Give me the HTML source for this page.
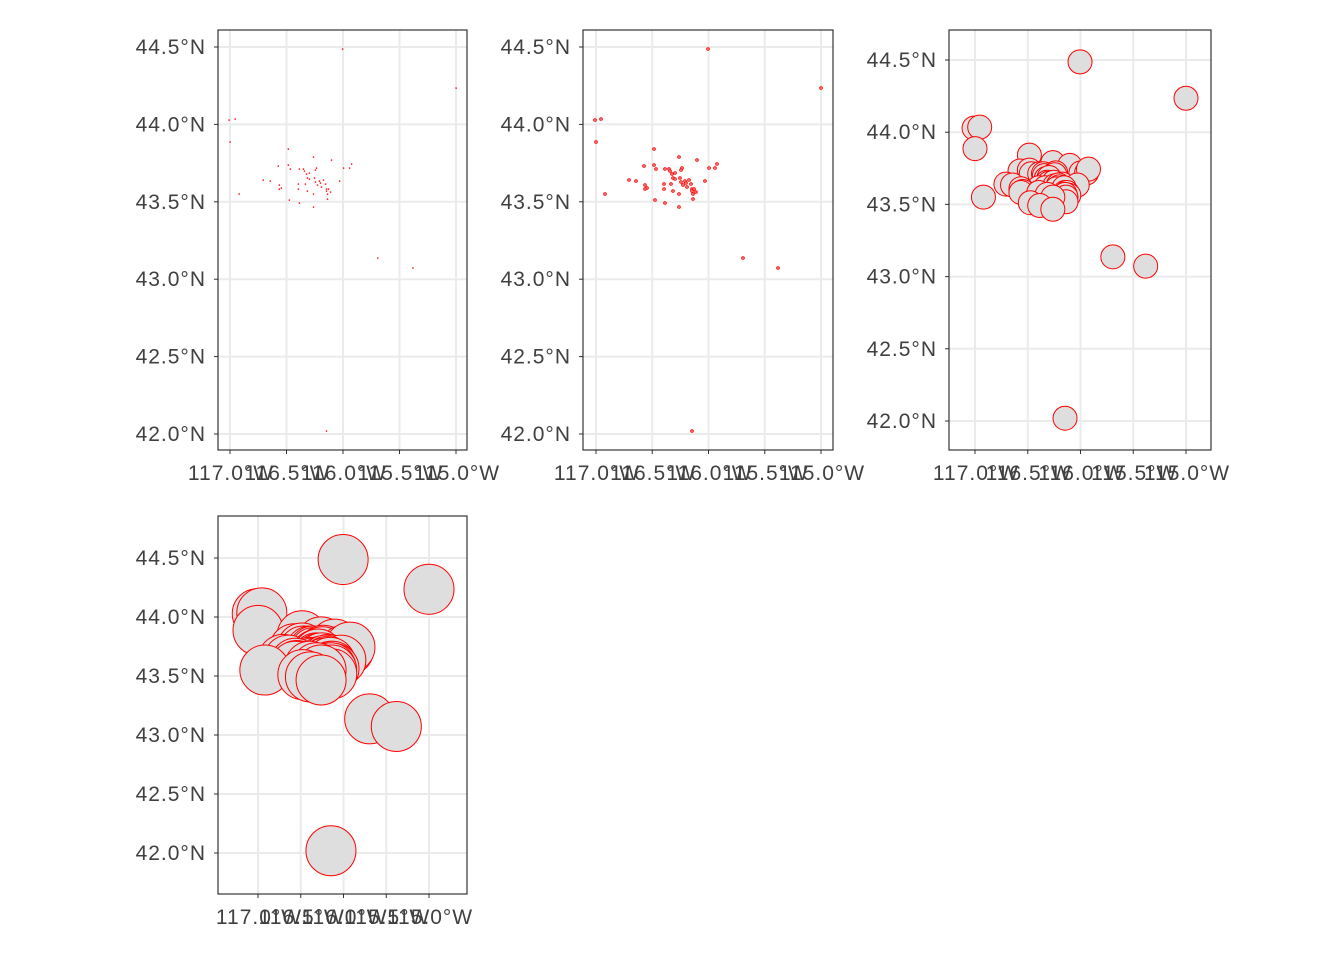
<!DOCTYPE html><html><head><style>body{margin:0;background:#fff}svg text{font-family:"Liberation Sans",sans-serif;font-size:21px;letter-spacing:1px;fill:#404040}</style></head><body>
<svg id="s" width="1344" height="960" xmlns="http://www.w3.org/2000/svg"></svg>
<script>
const P=[[708,49],[821,88],[595,120],[601,119],[743,258],[778,268],[692,431],[596,142],[654,149],[679,157],[697,160],[644,166],[654,165],[656,169],[665,169],[669,169],[670,171],[682,168],[681,170],[709,168],[715,168],[717,164],[629,180],[636,181],[672,174],[675,173],[673,178],[675,179],[680,178],[689,180],[705,181],[664,184],[671,184],[681,182],[685,181],[686,183],[687,187],[683,185],[691,184],[692,189],[694,189],[696,192],[692,191],[693,194],[693,199],[645,185],[647,188],[645,189],[664,189],[673,191],[679,194],[605,194],[655,200],[665,203],[679,207]];
const D=P.map(p=>[(p[0]-596)/225,(434-p[1])/387]);
const panels=[
 {x0:218,x1:467,y0:30,y1:450,lx0:230,lx1:456,ly0:434,ly1:47,r:0.6,sw:0},
 {x0:583,x1:833,y0:30,y1:450,lx0:596,lx1:821,ly0:434,ly1:47,r:1.3,sw:1},
 {x0:949,x1:1211,y0:30,y1:450,lx0:975,lx1:1186,ly0:421,ly1:60,r:12,sw:1},
 {x0:218,x1:467,y0:516,y1:894,lx0:258,lx1:429,ly0:853,ly1:558,r:25,sw:1}];
let h='';
const xs=['117.0°W','116.5°W','116.0°W','115.5°W','115.0°W'],ys=['42.0°N','42.5°N','43.0°N','43.5°N','44.0°N','44.5°N'];
for(const q of panels){
 h+=`<rect x="${q.x0}" y="${q.y0}" width="${q.x1-q.x0}" height="${q.y1-q.y0}" fill="#fff"/>`;
 for(let i=0;i<5;i++){const x=q.lx0+(q.lx1-q.lx0)*i/4;h+=`<line x1="${x}" x2="${x}" y1="${q.y0}" y2="${q.y1}" stroke="#ebebeb" stroke-width="2"/><line x1="${x}" x2="${x}" y1="${q.y1}" y2="${q.y1+4}" stroke="#333" stroke-width="1"/><text x="${x+1}" y="${q.y1+30}" text-anchor="middle">${xs[i]}</text>`;}
 for(let i=0;i<6;i++){const y=q.ly0+(q.ly1-q.ly0)*i/5;h+=`<line x1="${q.x0}" x2="${q.x1}" y1="${y}" y2="${y}" stroke="#ebebeb" stroke-width="2"/><line x1="${q.x0-4}" x2="${q.x0}" y1="${y}" y2="${y}" stroke="#333"/><text x="${q.x0-12}" y="${y+7}" text-anchor="end">${ys[i]}</text>`;}
 for(const d of D){const x=q.lx0+d[0]*(q.lx1-q.lx0),y=q.ly0+d[1]*(q.ly1-q.ly0);
  h+=q.sw?`<circle cx="${x}" cy="${y}" r="${q.r}" fill="#dedede" stroke="#f00" stroke-width="1"/>`:`<rect x="${x-0.6}" y="${y-0.6}" width="1.4" height="1.4" fill="#f00"/>`;}
 h+=`<rect x="${q.x0}" y="${q.y0}" width="${q.x1-q.x0}" height="${q.y1-q.y0}" fill="none" stroke="#222" stroke-width="1.1"/>`;
}
document.getElementById('s').innerHTML=h;
</script></body></html>
